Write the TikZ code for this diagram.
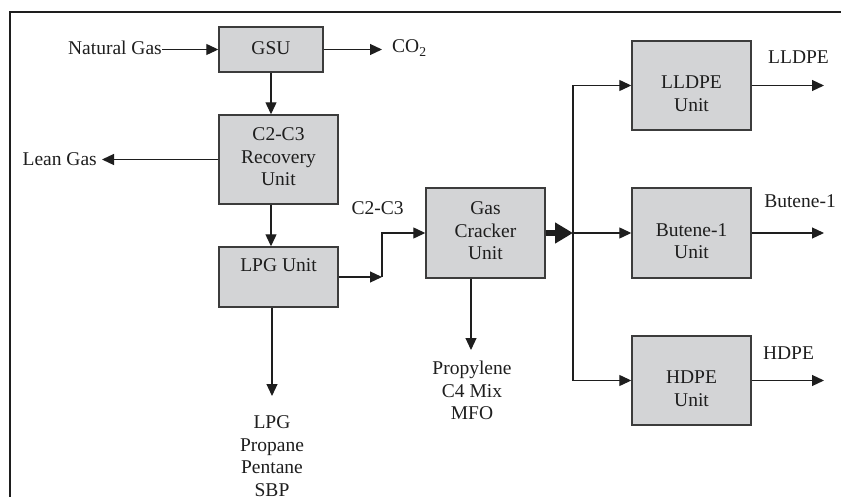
\documentclass[tikz,border=0pt]{standalone}
\usepackage{fontspec}
\setmainfont{Liberation Serif}
\usetikzlibrary{arrows.meta,calc}
\definecolor{boxfill}{RGB}{211,212,214}
\definecolor{boxline}{RGB}{60,60,60}
\definecolor{ink}{RGB}{30,30,30}
\begin{document}
\begin{tikzpicture}[x=1pt,y=-1pt,
  unitbox/.style={draw=boxline,fill=boxfill,line width=1.4pt,inner sep=0pt},
  txt/.style={font=\fontsize{19.5}{22.5}\selectfont,align=center,inner sep=0pt,text=ink},
  flow/.style={draw=ink,line width=1.2pt,-{Triangle[length=12pt,width=11pt]}},
  plain/.style={draw=ink,line width=1.2pt},
  bigflow/.style={draw=ink,line width=6pt,-{Triangle[length=18pt,width=20pt]}}
]
\useasboundingbox (0,0) rectangle (841,497);
\draw[line width=2pt,ink] (10,497) -- (10,12) -- (841,12);

% boxes
\node[unitbox,minimum width=104pt,minimum height=45pt] (gsu) at (271,49.5) {};
\node[unitbox,minimum width=119pt,minimum height=89pt] (rec) at (278.5,159.5) {};
\node[unitbox,minimum width=119pt,minimum height=60pt] (lpg) at (278.5,277) {};
\node[unitbox,minimum width=119pt,minimum height=90pt] (gcu) at (485.5,233) {};
\node[unitbox,minimum width=119pt,minimum height=89pt] (lldpe) at (691.5,85.5) {};
\node[unitbox,minimum width=119pt,minimum height=90pt] (but) at (691.5,233) {};
\node[unitbox,minimum width=119pt,minimum height=89pt] (hdpe) at (691.5,380.5) {};

% box texts
\node[txt] (gsuT) at (271,48) {GSU};
\node[txt] (recT) at (278.5,157) {C2-C3\\Recovery\\Unit};
\node[txt] (lpgT) at (278.5,265) {LPG Unit};
\node[txt] (gcuT) at (485.5,231) {Gas\\Cracker\\Unit};
\node[txt] (lldpeT) at (691.5,93.5) {LLDPE\\Unit};
\node[txt] (butT) at (691.5,241) {Butene-1\\Unit};
\node[txt] (hdpeT) at (691.5,388.5) {HDPE\\Unit};

% external labels
\node[txt,anchor=east] (ng) at (162,48) {Natural Gas};
\node[txt,anchor=west] (co2) at (392,48) {CO\textsubscript{2}};
\node[txt,anchor=east] (lean) at (97,159) {Lean Gas};
\node[txt] (c2c3) at (377.5,208) {C2-C3};
\node[txt] (lpglist) at (272,456) {LPG\\Propane\\Pentane\\SBP};
\node[txt] (proplist) at (472,390.5) {Propylene\\C4 Mix\\MFO};
\node[txt] (lldpeL) at (798.5,57) {LLDPE};
\node[txt] (butL) at (800,201) {Butene-1};
\node[txt] (hdpeL) at (788.5,353) {HDPE};

% coordinates
\coordinate (co2a) at (382,49.5);
\coordinate (leana) at (102,159.5);
\coordinate (lpga) at (272,396);
\coordinate (k) at (382,277);
\coordinate (propa) at (471,350);
\coordinate (j) at (573,233);
\coordinate (jt) at (573,85.5);
\coordinate (jb) at (573,380.5);
\coordinate (o1) at (824,85.5);
\coordinate (o2) at (824,233);
\coordinate (o3) at (824,380.5);

% connectors
\draw[flow] (ng.east |- gsu.west) -- (gsu.west);
\draw[flow] (gsu.east) -- (co2a);
\draw[flow] (gsu.south) -- (gsu.south |- rec.north);
\draw[flow] (rec.west) -- (leana);
\draw[flow] (rec.south -| gsu.south) -- (gsu.south |- lpg.north);
\draw[flow] (lpg.south -| lpga) -- (lpga);
\draw[flow] (lpg.east) -- (k);
\draw[flow] (k) -- (k |- gcu.west) -- (gcu.west);
\draw[flow] (propa |- gcu.south) -- (propa);
\draw[plain] (jt) -- (jb);
\draw[bigflow] (gcu.east) -- (j);
\draw[flow] (jt) -- (lldpe.west);
\draw[flow] (j) -- (but.west);
\draw[flow] (jb) -- (hdpe.west);
\draw[flow] (lldpe.east) -- (o1);
\draw[flow] (but.east) -- (o2);
\draw[flow] (hdpe.east) -- (o3);
\end{tikzpicture}
\end{document}
